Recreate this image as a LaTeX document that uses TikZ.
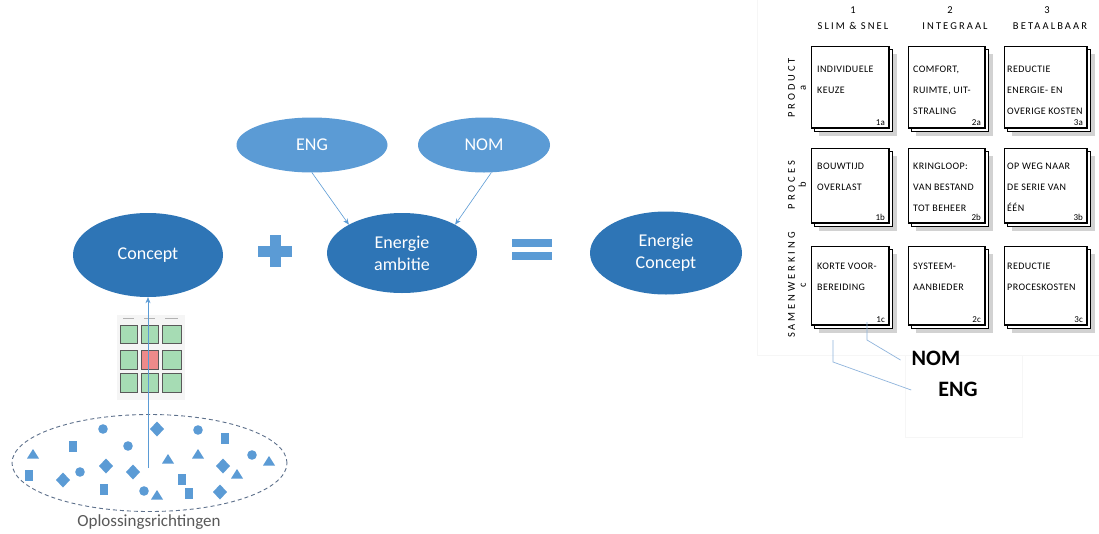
\documentclass[tikz,border=0pt]{standalone}
\usepackage{fontspec}
\setmainfont{Carlito}
\usetikzlibrary{shapes.geometric,arrows.meta}
\definecolor{dkb}{HTML}{2E75B6}
\definecolor{ltb}{HTML}{5B9BD5}
\definecolor{lnb}{HTML}{8FB4DC}
\definecolor{poolc}{HTML}{5E718C}
\definecolor{labc}{HTML}{595959}
\definecolor{thg}{HTML}{A6DCB4}
\definecolor{thr}{HTML}{EE8A8A}
\newcommand\skbox[5]{%
  \fill[gray!35] (#1+8,#2+8) rectangle (#3+8,#4+8);
  \draw[black,fill=white,line width=0.6pt] (#1+3,#2+3) rectangle (#3+3,#4+3);
  \draw[black,fill=white,line width=0.6pt] (#1,#2) rectangle (#3,#4);
  \draw[black,line width=1.6pt] (#1,#4) -- (#3,#4) -- (#3,#2);
  \node[cornerlab,anchor=south east] (lab#5) at (#3-4,#4-2) {#5};
}
\newcommand\shtri[2]{\fill[shp,shift={(#1,#2)}] (-6,4.5) -- (6,4.5) -- (0,-5) -- cycle;}
\newcommand\shcir[2]{\fill[shp] (#1,#2) circle (4.8);}
\newcommand\shsq[2]{\fill[shp,shift={(#1,#2)}] (-3.8,-5.5) rectangle (3.8,5.5);}
\newcommand\shdia[2]{\fill[shp,shift={(#1,#2)}] (-7,0) -- (0,-7.5) -- (7,0) -- (0,7.5) -- cycle;}
\newcommand\thbox[5]{\fill[#5,draw=gray!70!black,line width=0.5pt] (#1,#2) rectangle (#3,#4);}
\begin{document}
\begin{tikzpicture}[x=1pt,y=-1pt,
  bigell/.style={ellipse,fill=dkb,text=white,inner sep=0pt,align=center,
    font=\fontsize{18}{22}\selectfont},
  smallell/.style={ellipse,fill=ltb,text=white,inner sep=0pt,align=center,
    font=\fontsize{18}{22}\selectfont},
  conn/.style={draw=ltb,line width=0.6pt,-{Stealth[length=6pt,width=5pt]}},
  thin/.style={draw=lnb,line width=0.7pt},
  shp/.style={fill=ltb},
  btxt/.style={anchor=north west,inner sep=0pt,align=left,
    font=\fontsize{10}{21}\selectfont\addfontfeature{LetterSpace=4}},
  cornerlab/.style={inner sep=0pt,font=\fontsize{9}{10}\selectfont},
  hdr/.style={inner sep=0pt,font=\fontsize{10.5}{11}\selectfont\addfontfeature{LetterSpace=20}},
  rowlab/.style={inner sep=0pt,rotate=90,align=center,
    font=\fontsize{10.5}{11}\selectfont\addfontfeature{LetterSpace=28}},
  hand/.style={inner sep=0pt,font=\fontsize{22}{24}\selectfont\bfseries}
]
\useasboundingbox (0,0) rectangle (1099,533);
\fill[white] (0,0) rectangle (1099,533);

% ---------- left: main ellipses ----------
\node[bigell,minimum width=150,minimum height=84] (concept) at (148,255) {Concept};
\node[bigell,minimum width=150,minimum height=80] (ambitie) at (402,253) {Energie\\ambitie};
\node[bigell,minimum width=152,minimum height=83] (econcept) at (666,253) {Energie\\Concept};
\node[smallell,minimum width=151,minimum height=55] (eng) at (312,145) {ENG};
\node[smallell,minimum width=132,minimum height=55] (nom) at (484,145) {NOM};

\draw[conn] (eng.south) -- (ambitie.north west);
\draw[conn] (nom.-75) -- (ambitie.north east);

% plus sign
\fill[ltb] (258,245.5) rectangle (292,257);
\fill[ltb] (269.5,235) rectangle (281,267);
% equals sign
\fill[ltb] (512,239) rectangle (552,247);
\fill[ltb] (512,252) rectangle (552,260);

% ---------- thumbnail grid ----------
\fill[gray!8] (117,315) rectangle (185,400);
\foreach \xa/\xb in {120/137,141/158,162/181}{
  \draw[gray!60,line width=0.4pt] (\xa+3,318) -- (\xb-3,318);
}
\thbox{120}{325}{137}{343}{thg}
\thbox{141}{325}{158}{343}{thg}
\thbox{162}{325}{181}{343}{thg}
\thbox{120}{350}{137}{369}{thg}
\thbox{141}{350}{158}{369}{thr}
\thbox{162}{350}{181}{369}{thg}
\thbox{120}{373}{137}{392}{thg}
\thbox{141}{373}{158}{392}{thg}
\thbox{162}{373}{181}{392}{thg}

% ---------- solution pool ----------
\node[ellipse,draw=poolc,dashed,dash pattern=on 4pt off 3pt,line width=0.9pt,
  minimum width=275,minimum height=97,inner sep=0pt] (pool) at (149.5,463) {};
\shcir{103}{429}
\shdia{157}{429}
\shcir{198}{430}
\shsq{225}{438}
\shsq{73}{446}
\shcir{128}{446}
\shtri{33}{454}
\shtri{168}{459}
\shtri{198}{454}
\shcir{252}{455}
\shtri{269}{461}
\shdia{106}{466}
\shdia{133}{472}
\shcir{80}{472}
\shdia{223}{466}
\shtri{237}{474}
\shsq{29}{475}
\shdia{63}{480}
\shsq{182}{479}
\shsq{104}{489}
\shcir{144}{491}
\shtri{157}{495}
\shsq{189}{493}
\shdia{220}{492}
\node[font=\fontsize{17}{20}\selectfont,text=labc,inner sep=0pt] (oplab) at (149,522) {Oplossingsrichtingen};

\coordinate (ostart) at (148,468);
\draw[conn] (ostart) -- (concept.south);

% ---------- right: sketch matrix ----------
\draw[gray!7,line width=0.6pt] (757,0) -- (757,355) -- (1099,355);
\draw[gray!7,line width=0.6pt] (905,355) -- (905,437) -- (1022,437) -- (1022,355);

\node[hdr] (h1n) at (853,10) {1};
\node[hdr] (h1) at (853,26) {SLIM \& SNEL};
\node[hdr] (h2n) at (950,10) {2};
\node[hdr] (h2) at (955,26) {INTEGRAAL};
\node[hdr] (h3n) at (1047,10) {3};
\node[hdr] (h3) at (1050,26) {BETAALBAAR};

\node[rowlab] (ra) at (797,88) {PRODUCT\\a};
\node[rowlab] (rb) at (797,185) {PROCES\\b};
\node[rowlab] (rc) at (797,285) {SAMENWERKING\\c};

\skbox{811}{46}{889}{128}{1a}
\skbox{908}{46}{985}{128}{2a}
\skbox{1004}{46}{1087}{128}{3a}
\skbox{811}{148}{889}{223}{1b}
\skbox{908}{148}{985}{223}{2b}
\skbox{1004}{148}{1087}{223}{3b}
\skbox{811}{246}{889}{325}{1c}
\skbox{908}{246}{985}{325}{2c}
\skbox{1004}{246}{1087}{325}{3c}

\node[btxt] (t1a) at (817,66) {INDIVIDUELE\\KEUZE};
\node[btxt] (t2a) at (913,66) {COMFORT,\\RUIMTE, UIT-\\STRALING};
\node[btxt] (t3a) at (1007,66) {REDUCTIE\\ENERGIE- EN\\OVERIGE KOSTEN};
\node[btxt] (t1b) at (817,163) {BOUWTIJD\\OVERLAST};
\node[btxt] (t2b) at (913,163) {KRINGLOOP:\\VAN BESTAND\\TOT BEHEER};
\node[btxt] (t3b) at (1007,163) {OP WEG NAAR\\DE SERIE VAN\\ÉÉN};
\node[btxt] (t1c) at (817,263) {KORTE VOOR-\\BEREIDING};
\node[btxt] (t2c) at (913,263) {SYSTEEM-\\AANBIEDER};
\node[btxt] (t3c) at (1007,263) {REDUCTIE\\PROCESKOSTEN};

\node[hand] (nomh) at (936,358) {NOM};
\node[hand] (engh) at (958,389) {ENG};

\coordinate (la1) at (867,322);
\coordinate (la2) at (867,340);
\coordinate (lb1) at (833,340);
\coordinate (lb2) at (833,362);
\coordinate (nomend) at ([xshift=-11pt,yshift=-2pt]nomh.west);
\coordinate (engend) at ([xshift=-27pt,yshift=-1pt]engh.west);
\draw[thin] (la1) -- (la2) -- (nomend);
\draw[thin] (lb1) -- (lb2) -- (engend);
\end{tikzpicture}
\end{document}
